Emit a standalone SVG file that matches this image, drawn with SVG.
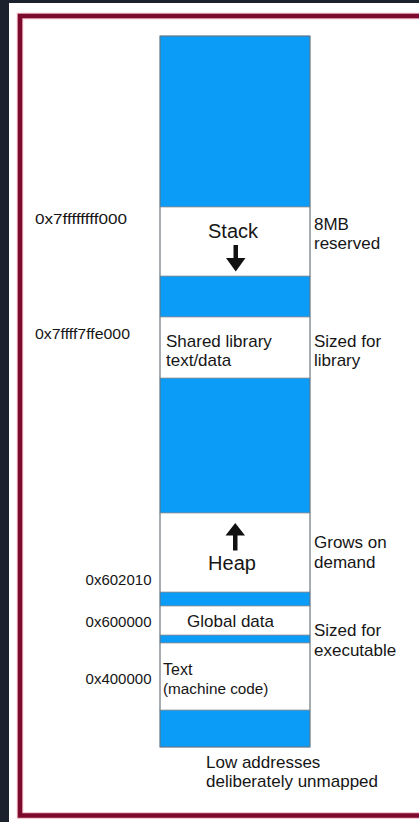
<svg xmlns="http://www.w3.org/2000/svg" width="419" height="822" viewBox="0 0 419 822">
<style>
text{font-family:"Liberation Sans",Arial,sans-serif;fill:#161616}
.addr{font-size:15px}
.lbl{font-size:17px}
.big{font-size:20px}
.blue{fill:#0a9cf6;stroke:#3a6f99;stroke-width:0.6}
.seg{fill:#ffffff;stroke:#9a9a9a;stroke-width:0.8}
.arrow{fill:#111}
</style>
<rect x="0" y="0" width="419" height="822" fill="#1b222d"/>
<rect x="9" y="3" width="410" height="819" fill="#ffffff"/>
<rect x="20" y="16" width="430" height="799.5" fill="none" stroke="#f2b8c6" stroke-width="6.5"/>
<rect x="20" y="16" width="430" height="799.5" fill="none" stroke="#7c0a2c" stroke-width="4.5"/>

<g id="column">
<rect class="blue" x="160" y="36" width="150" height="171"/>
<rect class="blue" x="160" y="276" width="150" height="41"/>
<rect class="blue" x="160" y="378" width="150" height="135"/>
<rect class="blue" x="160" y="592" width="150" height="14"/>
<rect class="blue" x="160" y="635" width="150" height="8"/>
<rect class="blue" x="160" y="710" width="150" height="37"/>
</g>

<g id="stack">
<rect class="seg" x="160" y="207" width="150" height="69"/>
<text class="big" x="233" y="238" text-anchor="middle">Stack</text>
<path class="arrow" d="M233.5,245 h4.5 v13 h7.5 l-9.75,13.5 l-9.75,-13.5 h7.5 z"/>
</g>

<g id="shared">
<rect class="seg" x="160" y="317" width="150" height="61"/>
<text class="lbl" x="166" y="346.5">Shared library</text>
<text class="lbl" x="166" y="366">text/data</text>
</g>

<g id="heap">
<rect class="seg" x="160" y="513" width="150" height="79"/>
<path class="arrow" d="M233,550.5 h4.5 v-15 h7.5 l-9.75,-12.5 l-9.75,12.5 h7.5 z"/>
<text class="big" x="232" y="570" text-anchor="middle">Heap</text>
</g>

<g id="global">
<rect class="seg" x="160" y="606" width="150" height="29"/>
<text class="lbl" x="230.5" y="626.5" text-anchor="middle">Global data</text>
</g>

<g id="text-seg">
<rect class="seg" x="160" y="643" width="150" height="67"/>
<text class="lbl" x="163" y="674.5" style="font-size:16px">Text</text>
<text class="lbl" x="163" y="693.5" style="font-size:15.3px">(machine code)</text>
</g>

<rect x="160" y="36" width="150" height="711" fill="none" stroke="#6f7b85" stroke-width="0.9"/>

<g id="addresses">
<text class="addr" x="35" y="224" textLength="92" lengthAdjust="spacingAndGlyphs">0x7ffffffff000</text>
<text class="addr" x="35" y="339" textLength="95" lengthAdjust="spacingAndGlyphs">0x7ffff7ffe000</text>
<text class="addr" x="151.5" y="584.5" text-anchor="end">0x602010</text>
<text class="addr" x="151.5" y="626.5" text-anchor="end">0x600000</text>
<text class="addr" x="151.5" y="683.5" text-anchor="end">0x400000</text>
</g>

<g id="notes">
<text class="lbl" x="314" y="229.5">8MB</text>
<text class="lbl" x="314" y="249">reserved</text>
<text class="lbl" x="314" y="346.5">Sized for</text>
<text class="lbl" x="314" y="366">library</text>
<text class="lbl" x="314" y="548">Grows on</text>
<text class="lbl" x="314" y="568">demand</text>
<text class="lbl" x="314" y="636">Sized for</text>
<text class="lbl" x="314" y="656">executable</text>
<text class="lbl" x="206" y="767.5">Low addresses</text>
<text class="lbl" x="206" y="787">deliberately unmapped</text>
</g>
</svg>
